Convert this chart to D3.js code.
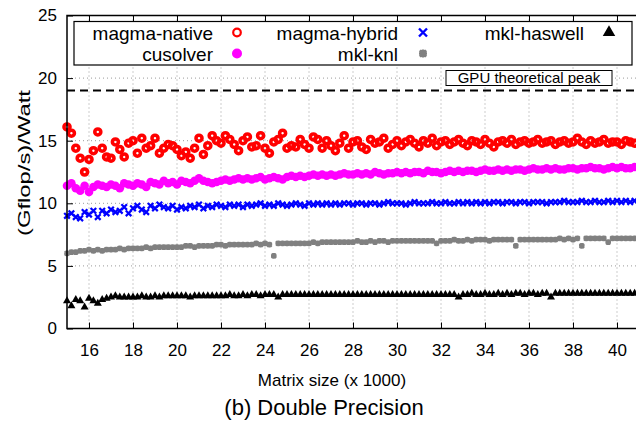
<!doctype html>
<html lang="en">
<head>
  <meta charset="utf-8" />
  <title>(Gflop/s)/Watt - Double Precision</title>
  <script src="https://d3js.org/d3.v7.min.js"></script>
  <style>
    body { margin: 0; background: #fff; }
    svg { font-family: "Liberation Sans", Arial, sans-serif; }
  </style>
</head>
<body>
  <svg id="chart" width="636" height="421"></svg>

  <script>
    // matrix sizes (x 1000)
    const sizes = [
      15.0, 15.2, 15.4, 15.6, 15.8, 16.0, 16.2, 16.4, 16.6, 16.8,
      17.0, 17.2, 17.4, 17.6, 17.8, 18.0, 18.2, 18.4, 18.6, 18.8,
      19.0, 19.2, 19.4, 19.6, 19.8, 20.0, 20.2, 20.4, 20.6, 20.8,
      21.0, 21.2, 21.4, 21.6, 21.8, 22.0, 22.2, 22.4, 22.6, 22.8,
      23.0, 23.2, 23.4, 23.6, 23.8, 24.0, 24.2, 24.4, 24.6, 24.8,
      25.0, 25.2, 25.4, 25.6, 25.8, 26.0, 26.2, 26.4, 26.6, 26.8,
      27.0, 27.2, 27.4, 27.6, 27.8, 28.0, 28.2, 28.4, 28.6, 28.8,
      29.0, 29.2, 29.4, 29.6, 29.8, 30.0, 30.2, 30.4, 30.6, 30.8,
      31.0, 31.2, 31.4, 31.6, 31.8, 32.0, 32.2, 32.4, 32.6, 32.8,
      33.0, 33.2, 33.4, 33.6, 33.8, 34.0, 34.2, 34.4, 34.6, 34.8,
      35.0, 35.2, 35.4, 35.6, 35.8, 36.0, 36.2, 36.4, 36.6, 36.8,
      37.0, 37.2, 37.4, 37.6, 37.8, 38.0, 38.2, 38.4, 38.6, 38.8,
      39.0, 39.2, 39.4, 39.6, 39.8, 40.0, 40.2, 40.4, 40.6, 40.8
    ];

    const magmaNative = [
      16.1, 15.6, 14.4, 13.6, 12.5, 13.5, 14.2, 15.7, 14.4, 13.7,
      13.6, 14.9, 14.3, 13.7, 14.8, 15.0, 14.0, 15.2, 14.4, 14.6,
      15.2, 14.0, 14.4, 14.7, 14.6, 14.3, 13.8, 14.1, 13.6, 14.4,
      15.2, 13.9, 14.6, 15.4, 15.0, 14.8, 15.4, 15.1, 14.7, 14.2,
      15.0, 15.3, 14.5, 14.6, 15.4, 14.4, 14.0, 14.9, 15.1, 15.6,
      14.4, 14.6, 14.5, 15.1, 14.7, 14.4, 15.3, 15.1, 14.4, 15.0,
      14.6, 14.2, 14.8, 15.4, 14.4, 14.9, 15.0, 14.5, 14.3, 15.1,
      14.8, 14.9, 15.2, 14.4, 14.7, 15.0, 14.6, 14.9, 15.1, 14.8,
      14.5, 15.0, 14.8, 15.2, 14.6, 14.9, 15.0, 14.7, 14.9, 15.1,
      14.8, 14.6, 15.0, 14.9, 14.7, 15.1, 14.8, 14.5, 14.9, 15.0,
      14.8, 15.1, 14.7, 14.9, 15.0, 14.8, 14.9, 15.1, 14.8, 14.9,
      15.0, 14.7, 14.9, 15.0, 14.8, 14.9, 15.2, 14.9, 14.7, 15.0,
      14.8, 14.9, 15.1, 14.8, 14.9, 14.9, 14.7, 15.0, 14.9, 14.8
    ];

    const cusolver = [
      11.4, 11.6, 11.2, 11.0, 11.4, 10.9, 11.3, 11.5, 11.4, 11.3,
      11.5, 11.4, 11.2, 11.6, 11.5, 11.4, 11.6, 11.5, 11.3, 11.7,
      11.6, 11.5, 11.8, 11.6, 11.7, 11.5, 11.8, 11.7, 11.6, 11.8,
      12.0, 11.8, 11.7, 11.6, 11.7, 11.8, 11.9, 11.8, 11.9, 12.0,
      11.9, 12.0, 11.9, 12.0, 12.1, 11.9, 12.0, 12.1, 12.0, 11.9,
      12.1, 12.2, 12.1, 12.2, 12.1, 12.2, 12.3, 12.2, 12.3, 12.2,
      12.3, 12.2, 12.3, 12.4, 12.3, 12.3, 12.4, 12.3, 12.4, 12.3,
      12.5, 12.4, 12.3, 12.4, 12.4, 12.5, 12.4, 12.5, 12.4, 12.5,
      12.5, 12.4, 12.6, 12.5, 12.5, 12.4, 12.5, 12.6, 12.5, 12.6,
      12.5, 12.6, 12.6, 12.5, 12.6, 12.7, 12.6, 12.6, 12.7, 12.6,
      12.7, 12.6, 12.7, 12.7, 12.6, 12.7, 12.8, 12.7, 12.7, 12.8,
      12.7, 12.8, 12.7, 12.7, 12.8, 12.8, 12.7, 12.8, 12.8, 12.9,
      12.8, 12.8, 12.7, 12.8, 12.9, 12.8, 12.9, 12.8, 12.8, 12.9
    ];

    const magmaHybrid = [
      9.0, 9.2, 8.9, 8.8, 9.3, 9.1, 9.4, 8.9, 9.4, 9.2,
      9.5, 9.3, 9.4, 9.7, 9.2, 9.6, 9.8, 9.5, 9.3, 9.8,
      9.6, 9.9, 9.7, 9.6, 9.8, 9.5, 9.7, 9.6, 9.8, 9.7,
      9.9, 9.6, 9.8, 9.7, 9.9, 9.8, 9.7, 9.9, 9.8, 9.9,
      9.7, 9.9, 9.8, 9.9, 10.0, 9.8, 9.9, 9.8, 10.0, 9.9,
      9.8, 9.9, 10.0, 9.9, 9.8, 10.0, 9.9, 10.0, 9.9, 10.0,
      9.9, 10.0, 9.9, 10.0, 10.0, 9.9, 10.0, 10.0, 9.9, 10.0,
      10.0, 9.9, 10.0, 10.1, 10.0, 10.0, 10.0, 9.9, 10.0, 10.1,
      10.0, 10.0, 10.0, 10.1, 10.0, 10.0, 10.1, 10.0, 10.0, 10.1,
      10.0, 10.1, 10.0, 10.1, 10.0, 10.1, 10.0, 10.1, 10.1, 10.0,
      10.1, 10.1, 10.0, 10.1, 10.1, 10.0, 10.1, 10.1, 10.1, 10.0,
      10.1, 10.1, 10.1, 10.2, 10.1, 10.1, 10.1, 10.2, 10.1, 10.1,
      10.2, 10.1, 10.1, 10.2, 10.1, 10.2, 10.1, 10.2, 10.1, 10.2
    ];

    const mklKnl = [
      6.0, 6.1, 6.1, 6.2, 6.2, 6.3, 6.2, 6.3, 6.2, 6.3,
      6.3, 6.3, 6.4, 6.3, 6.4, 6.4, 6.4, 6.4, 6.5, 6.4,
      6.5, 6.5, 6.5, 6.5, 6.5, 6.5, 6.5, 6.6, 6.6, 6.5,
      6.6, 6.6, 6.6, 6.6, 6.7, 6.7, 6.6, 6.7, 6.7, 6.7,
      6.7, 6.7, 6.7, 6.8, 6.7, 6.8, 6.7, 5.8, 6.8, 6.8,
      6.8, 6.8, 6.8, 6.8, 6.8, 6.8, 6.9, 6.8, 6.9, 6.9,
      6.9, 6.9, 6.9, 6.9, 6.9, 6.9, 7.0, 6.9, 6.9, 7.0,
      6.9, 7.0, 7.0, 6.9, 7.0, 7.0, 7.0, 7.0, 7.0, 7.0,
      7.0, 7.0, 7.0, 7.0, 6.8, 7.0, 7.0, 7.0, 7.1, 7.0,
      7.0, 7.1, 7.0, 7.1, 7.1, 7.1, 7.0, 7.1, 7.1, 7.1,
      7.1, 7.1, 6.6, 7.1, 7.1, 7.1, 7.1, 7.1, 7.1, 7.1,
      7.1, 7.1, 7.2, 7.1, 7.2, 7.1, 7.2, 6.6, 7.2, 7.2,
      7.2, 7.2, 7.2, 6.9, 7.2, 7.2, 7.2, 7.2, 7.2, 7.2
    ];

    const mklHaswell = [
      2.2, 1.8, 2.3, 2.2, 1.7, 2.4, 2.2, 2.0, 2.3, 2.4,
      2.5, 2.6, 2.5, 2.5, 2.5, 2.5, 2.5, 2.6, 2.5, 2.5,
      2.6, 2.5, 2.6, 2.6, 2.6, 2.6, 2.6, 2.6, 2.5, 2.6,
      2.6, 2.6, 2.6, 2.6, 2.6, 2.6, 2.6, 2.7, 2.6, 2.6,
      2.7, 2.6, 2.7, 2.7, 2.6, 2.7, 2.7, 2.7, 2.5, 2.7,
      2.7, 2.7, 2.7, 2.7, 2.7, 2.7, 2.7, 2.7, 2.7, 2.7,
      2.7, 2.7, 2.7, 2.7, 2.7, 2.7, 2.7, 2.7, 2.7, 2.7,
      2.7, 2.7, 2.7, 2.7, 2.7, 2.7, 2.7, 2.7, 2.7, 2.7,
      2.7, 2.7, 2.7, 2.7, 2.7, 2.7, 2.7, 2.7, 2.7, 2.5,
      2.7, 2.7, 2.8, 2.7, 2.7, 2.8, 2.7, 2.7, 2.8, 2.7,
      2.8, 2.7, 2.8, 2.8, 2.7, 2.8, 2.8, 2.7, 2.8, 2.8,
      2.5, 2.8, 2.8, 2.8, 2.8, 2.8, 2.8, 2.8, 2.8, 2.8,
      2.8, 2.8, 2.8, 2.8, 2.8, 2.8, 2.8, 2.8, 2.8, 2.8
    ];

    const xTicks = [16, 18, 20, 22, 24, 26, 28, 30, 32, 34, 36, 38, 40];
    const yTicks = [0, 5, 10, 15, 20, 25];
    const gpuPeak = 19;

    /* marker shapes, drawn centred on 0,0 (r = radius / half size) */
    const markers = {
      ring: r => d3.symbol(d3.symbolCircle, Math.PI * r * r)(),
      disc: r => d3.symbol(d3.symbolCircle, Math.PI * r * r)(),
      cross: r => `M${-r},${-r}L${r},${r}M${-r},${r}L${r},${-r}`,
      star: r => `M${-r},0L${r},0M0,${-r}L0,${r}` +
        `M${-r * 0.8},${-r * 0.8}L${r * 0.8},${r * 0.8}` +
        `M${-r * 0.8},${r * 0.8}L${r * 0.8},${-r * 0.8}`,
      // r = side length of the triangle
      triangle: r => d3.symbol(d3.symbolTriangle, r * r * Math.sqrt(3) / 4)()
    };

    const series = [
      { name: "magma-native", values: magmaNative, color: "#ff0000", marker: "ring", size: 3.0, legendSize: 3.8, fill: false, width: 3.6, legendWidth: 2.2 },
      { name: "magma-hybrid", values: magmaHybrid, color: "#0000ff", marker: "cross", size: 2.8, legendSize: 4, fill: false, width: 2.2, legendWidth: 2.4 },
      { name: "mkl-haswell", values: mklHaswell, color: "#000000", marker: "triangle", size: 8, legendSize: 12.5, fill: true, width: 0, legendWidth: 0 },
      { name: "cusolver", values: cusolver, color: "#ff00ff", marker: "disc", size: 4.3, legendSize: 5, fill: true, width: 0, legendWidth: 0 },
      { name: "mkl-knl", values: mklKnl, color: "#808080", marker: "star", size: 2.8, legendSize: 4, fill: false, width: 2, legendWidth: 2.6 }
    ];

    const svg = d3.select("#chart");

    const plot = { left: 67, right: 639, top: 15.5, bottom: 328.5 };

    const x = d3.scaleLinear().domain([15, 41]).range([plot.left, plot.right]);
    const y = d3.scaleLinear().domain([0, 25]).range([plot.bottom, plot.top]);

    // grid lines
    svg.append("g")
      .selectAll("line")
      .data(xTicks)
      .join("line")
      .attr("x1", d => x(d)).attr("x2", d => x(d))
      .attr("y1", plot.top).attr("y2", plot.bottom)
      .attr("stroke", "#9a9a9a").attr("stroke-width", 1)
      .attr("stroke-dasharray", "1,3");

    svg.append("g")
      .selectAll("line")
      .data(yTicks.slice(1, -1))
      .join("line")
      .attr("x1", plot.left).attr("x2", plot.right)
      .attr("y1", d => y(d)).attr("y2", d => y(d))
      .attr("stroke", "#9a9a9a").attr("stroke-width", 1)
      .attr("stroke-dasharray", "1,3");

    // GPU theoretical peak
    svg.append("line")
      .attr("x1", plot.left).attr("x2", plot.right)
      .attr("y1", y(gpuPeak)).attr("y2", y(gpuPeak))
      .attr("stroke", "#000").attr("stroke-width", 2)
      .attr("stroke-dasharray", "8,5");

    const peakBox = svg.append("g").attr("transform", "translate(446,70.5)");
    peakBox.append("rect")
      .attr("width", 166).attr("height", 15)
      .attr("fill", "#fff").attr("stroke", "#000").attr("stroke-width", 1);
    peakBox.append("text")
      .attr("x", 83).attr("y", 12.5)
      .attr("text-anchor", "middle")
      .attr("font-size", 15)
      .text("GPU theoretical peak");

    // data points
    series.forEach(s => {
      svg.append("g")
        .selectAll("path")
        .data(s.values)
        .join("path")
        .attr("transform", (d, i) => `translate(${x(sizes[i])},${y(d)})`)
        .attr("d", markers[s.marker](s.size))
        .attr("fill", s.fill ? s.color : "none")
        .attr("stroke", s.fill ? "none" : s.color)
        .attr("stroke-width", s.width);
    });

    // axes with inward ticks, mirrored on top
    const bottomAxis = svg.append("g")
      .attr("transform", `translate(0,${plot.bottom})`)
      .call(d3.axisBottom(x).tickValues(xTicks).tickSize(-6).tickPadding(15));
    svg.append("g")
      .attr("transform", `translate(0,${plot.top})`)
      .call(d3.axisTop(x).tickValues(xTicks).tickSize(-6).tickFormat(""));
    const leftAxis = svg.append("g")
      .attr("transform", `translate(${plot.left},0)`)
      .call(d3.axisLeft(y).tickValues(yTicks).tickSize(-6).tickPadding(10));

    [bottomAxis, leftAxis].forEach(a => {
      a.selectAll("text").attr("font-size", 17).attr("fill", "#000")
        .attr("font-family", "Liberation Sans, Arial, sans-serif");
    });
    svg.selectAll(".domain").remove();
    svg.selectAll(".tick line").attr("stroke", "#000").attr("stroke-width", 1);

    // frame
    svg.append("rect")
      .attr("x", plot.left).attr("y", plot.top)
      .attr("width", plot.right - plot.left).attr("height", plot.bottom - plot.top)
      .attr("fill", "none").attr("stroke", "#000").attr("stroke-width", 1.5);

    // legend
    const legend = svg.append("g");
    legend.append("rect")
      .attr("x", 74).attr("y", 21.5).attr("width", 558).attr("height", 43.5)
      .attr("fill", "#fff").attr("stroke", "#000").attr("stroke-width", 1.2);

    const colText = [213, 398, 584];
    const colMark = [237, 423, 609];
    const rowY = [32.5, 53.5];

    series.forEach((s, i) => {
      const col = i % 3, row = Math.floor(i / 3);
      legend.append("text")
        .attr("x", colText[col]).attr("y", rowY[row] + 7)
        .attr("text-anchor", "end")
        .attr("font-size", 19)
        .text(s.name);
      legend.append("path")
        .attr("transform", `translate(${colMark[col]},${rowY[row]})`)
        .attr("d", markers[s.marker](s.legendSize))
        .attr("fill", s.fill ? s.color : "none")
        .attr("stroke", s.fill ? "none" : s.color)
        .attr("stroke-width", s.legendWidth);
    });

    // axis titles and caption
    svg.append("text")
      .attr("x", 332).attr("y", 386)
      .attr("text-anchor", "middle")
      .attr("font-size", 17)
      .text("Matrix size (x 1000)");

    svg.append("text")
      .attr("transform", "translate(30,163) rotate(-90)")
      .attr("text-anchor", "middle")
      .attr("font-size", 16)
      .attr("textLength", 146)
      .attr("lengthAdjust", "spacingAndGlyphs")
      .text("(Gflop/s)/Watt");

    svg.append("text")
      .attr("x", 324).attr("y", 415)
      .attr("text-anchor", "middle")
      .attr("font-size", 22)
      .text("(b) Double Precision");
  </script>
</body>
</html>
